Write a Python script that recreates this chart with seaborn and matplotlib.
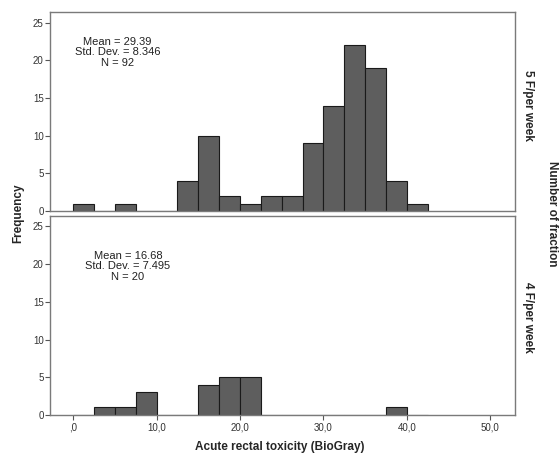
import numpy as np
import pandas as pd
import matplotlib
matplotlib.use('Agg')
import matplotlib.pyplot as plt
import seaborn as sns

# bins de 2.5 (lectura del gráfico)
bordes = [0, 2.5, 5, 7.5, 10, 12.5, 15, 17.5, 20, 22.5, 25, 27.5, 30, 32.5, 35, 37.5, 40, 42.5]
grupos = ['5 F/per week', '4 F/per week']

# frecuencias por bin (inicio del bin -> conteo)
inicio_5f = [0, 5, 12.5, 15, 17.5, 20, 22.5, 25, 27.5, 30, 32.5, 35, 37.5, 40]
conteo_5f = [1, 1, 4, 10, 2, 1, 2, 2, 9, 14, 22, 19, 4, 1]
inicio_4f = [2.5, 5, 7.5, 15, 17.5, 20, 37.5]
conteo_4f = [1, 1, 3, 4, 5, 5, 1]

estadisticos = [
    'Mean = 29.39\nStd. Dev. = 8.346\nN = 92',
    'Mean = 16.68\nStd. Dev. = 7.495\nN = 20',
]
pos_texto = [(0.145, 0.875), (0.168, 0.825)]
xticks = [0, 10, 20, 30, 40, 50]
xtick_labels = [',0', '10,0', '20,0', '30,0', '40,0', '50,0']
yticks = [0, 5, 10, 15, 20, 25]

sns.set_theme(style='white')
plt.rcParams['font.family'] = ['Liberation Sans', 'DejaVu Sans']

fig = plt.figure(figsize=(5.6, 4.54), dpi=100)
ax1 = fig.add_axes([0.089, 0.535, 0.831, 0.4385])
ax2 = fig.add_axes([0.089, 0.086, 0.831, 0.4385])

datos = [(inicio_5f, conteo_5f), (inicio_4f, conteo_4f)]
for ax, (inicio, conteo), texto, pos in zip([ax1, ax2], datos, estadisticos, pos_texto):
    df = pd.DataFrame({'x': np.array(inicio) + 1.25, 'n': conteo})
    sns.histplot(data=df, x='x', weights='n', bins=bordes, ax=ax,
                 color='#5e5e5e', edgecolor='#1a1a1a', linewidth=0.8, alpha=1)
    ax.set_xlim(-2.8, 53)
    ax.set_ylim(0, 26.4)
    ax.set_yticks(yticks)
    ax.set_yticklabels([str(t) for t in yticks], fontsize=7, color='#333333')
    ax.set_xlabel('')
    ax.set_ylabel('')
    ax.tick_params(axis='y', length=3.5, width=0.8, color='#555555', pad=1, left=True)
    for s in ax.spines.values():
        s.set_color('#7a7a7a')
        s.set_linewidth(1)
    ax.text(pos[0], pos[1], texto, transform=ax.transAxes, ha='center', va='top',
            fontsize=8, color='#222222', linespacing=1.05)

ax1.set_xticks([])
ax2.set_xticks(xticks)
ax2.set_xticklabels(xtick_labels, fontsize=7, color='#333333')
ax2.tick_params(axis='x', length=3.5, width=0.8, color='#555555', pad=2, bottom=True)

fig.text(0.5, 0.016, 'Acute rectal toxicity (BioGray)', ha='center', va='center',
         fontsize=8.5, fontweight='bold')
fig.text(0.032, 0.53, 'Frequency', rotation=90, ha='center', va='center',
         fontsize=8.5, fontweight='bold')
fig.text(0.942, 0.768, grupos[0], rotation=-90, ha='center', va='center',
         fontsize=8.5, fontweight='bold')
fig.text(0.942, 0.30, grupos[1], rotation=-90, ha='center', va='center',
         fontsize=8.5, fontweight='bold')
fig.text(0.986, 0.53, 'Number of fraction', rotation=-90, ha='center', va='center',
         fontsize=8.5, fontweight='bold')

fig.savefig('out.png', dpi=100)
